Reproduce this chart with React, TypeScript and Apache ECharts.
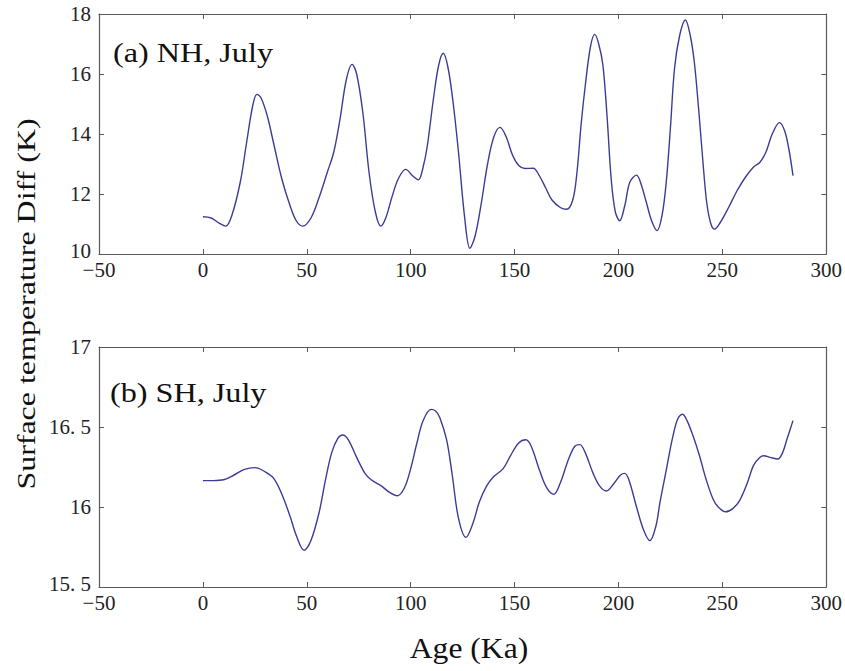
import React, { useEffect, useRef } from "react";
import * as echarts from "echarts";

const nhAge = [0, 4, 8, 11, 14, 18, 21, 24, 26, 28, 31, 34, 38, 42, 45, 48, 52, 56, 60, 63, 66, 69, 71.8, 74, 77, 80, 83, 85.6, 88, 91, 94, 97.6, 101, 103.7, 106, 108, 111, 113.5, 115.7, 118, 120.5, 123, 126, 128.5, 131, 134, 137, 140, 143, 146, 149, 152, 155, 159, 162, 165, 168, 172, 175, 178, 180, 182, 184, 186.5, 188.6, 190.5, 192.5, 194.5, 196.5, 198.5, 200.6, 203, 205.5, 208.7, 211, 213.5, 216, 218.6, 221, 223, 225, 227, 229.5, 232.2, 234.5, 236.5, 238.5, 240.5, 242.5, 244.5, 246.3, 249, 253, 257, 261, 265, 268, 271, 274, 277.5, 280, 282, 284];
const nhTemp = [11.24, 11.2, 11.02, 10.93, 11.3, 12.4, 13.7, 14.95, 15.32, 15.2, 14.6, 13.7, 12.5, 11.6, 11.1, 10.93, 11.2, 11.9, 12.75, 13.4, 14.5, 15.8, 16.32, 16.0, 14.7, 12.7, 11.4, 10.93, 11.2, 11.9, 12.5, 12.82, 12.6, 12.47, 12.9, 13.6, 15.2, 16.3, 16.69, 16.2, 15.0, 13.4, 11.2, 10.19, 10.6, 11.7, 13.0, 13.9, 14.22, 13.9, 13.3, 12.95, 12.85, 12.86, 12.6, 12.2, 11.8, 11.55, 11.49, 11.8, 12.7, 14.3, 15.6, 16.9, 17.32, 17.0, 16.3, 14.6, 12.5, 11.4, 11.11, 11.6, 12.4, 12.63, 12.3, 11.7, 11.1, 10.78, 11.3, 12.4, 14.2, 16.2, 17.3, 17.8, 17.3, 16.4, 14.9, 13.2, 11.7, 11.0, 10.83, 11.05, 11.55, 12.1, 12.55, 12.9, 13.05, 13.4, 14.0, 14.38, 14.1, 13.5, 12.61];

const shAge = [0, 5, 10, 15, 20, 25, 30, 34, 38, 42, 45, 48.7, 52, 56, 59, 62, 65, 67.3, 70, 74, 78, 81, 86, 90, 93.6, 97, 100, 103, 106, 109.8, 112, 114, 117.3, 120, 123, 126.6, 130, 133, 136.5, 140, 144.5, 148, 152, 155.4, 158, 162, 165.5, 168.9, 172, 176, 179, 181.4, 184, 187.8, 191, 194.2, 198, 201, 203, 205, 208.7, 212, 215.1, 218, 220, 223, 226, 228.5, 230.8, 233, 236, 239, 242, 245.5, 248, 251.6, 255, 258.3, 262, 265, 268, 270, 273, 276.7, 279, 281, 284];
const shTemp = [16.165, 16.165, 16.17, 16.2, 16.235, 16.246, 16.22, 16.18, 16.08, 15.94, 15.82, 15.73, 15.79, 15.97, 16.17, 16.34, 16.43, 16.45, 16.42, 16.31, 16.21, 16.17, 16.13, 16.09, 16.07, 16.12, 16.24, 16.4, 16.54, 16.61, 16.6, 16.56, 16.42, 16.2, 15.93, 15.81, 15.9, 16.03, 16.13, 16.19, 16.24, 16.32, 16.4, 16.42, 16.38, 16.23, 16.12, 16.08, 16.15, 16.3, 16.38, 16.39, 16.34, 16.21, 16.13, 16.1, 16.15, 16.2, 16.21, 16.17, 16.0, 15.86, 15.79, 15.88, 16.03, 16.23, 16.43, 16.55, 16.58, 16.54, 16.44, 16.32, 16.18, 16.05, 16.0, 15.97, 15.99, 16.04, 16.15, 16.26, 16.31, 16.32, 16.31, 16.3, 16.34, 16.42, 16.54];

const xTicks = { min: -50, max: 300, interval: 50 };
const nhTicks = { min: 10, max: 18, interval: 2 };
const shTicks = { min: 15.5, max: 17, interval: 0.5 };

const panelTitles = ["(a) NH, July", "(b) SH, July"];
const yName = "Surface temperature Diff (K)";
const xName = "Age (Ka)";

const AXIS_COLOR = "#5a5a5a";
const LINE_COLOR = "#3c3c96";
const SERIF = "Liberation Serif";

export default function App() {
  const ref = useRef<HTMLDivElement>(null);
  useEffect(() => {
    if (!ref.current) return;
    const chart = echarts.init(ref.current, null, { renderer: "svg" });
    const grids = [
      { left: 99, top: 14, width: 728, height: 240 },
      { left: 99, top: 347, width: 728, height: 240 },
    ];
    const baseAxisLine = { show: true, onZero: false, lineStyle: { color: AXIS_COLOR, width: 1.2 } };
    const tick = { show: true, inside: true, length: 5, lineStyle: { color: AXIS_COLOR } };
    const labelStyle = { color: "#222", fontFamily: SERIF, fontSize: 21, lineHeight: 14 };
    const fmtX = (v: number) => String(v).replace("-", "\u2212");
    const xAxes: any[] = [];
    const yAxes: any[] = [];
    [0, 1].forEach((g) => {
      xAxes.push({
        type: "value", gridIndex: g, position: "bottom", ...xTicks,
        axisLine: baseAxisLine, axisTick: tick, splitLine: { show: false },
        axisLabel: { ...labelStyle, margin: 9, formatter: fmtX },
      });
      xAxes.push({
        type: "value", gridIndex: g, position: "top", ...xTicks,
        axisLine: baseAxisLine, axisTick: tick, splitLine: { show: false },
        axisLabel: { show: false },
      });
      const yt = g === 0 ? nhTicks : shTicks;
      const fmtY = (v: number) => {
        const s = String(v).replace(".", ". ");
        return v === yt.min ? "{lo|" + s + "}" : s;
      };
      yAxes.push({
        type: "value", gridIndex: g, position: "left", ...yt,
        axisLine: baseAxisLine, axisTick: tick, splitLine: { show: false },
        axisLabel: {
          ...labelStyle, margin: 8, formatter: fmtY,
          rich: { lo: { fontFamily: SERIF, fontSize: 21, lineHeight: 14, color: "#222", padding: [0, 0, 6, 0] } },
        },
      });
      yAxes.push({
        type: "value", gridIndex: g, position: "right", ...yt,
        axisLine: baseAxisLine, axisTick: tick, splitLine: { show: false },
        axisLabel: { show: false },
      });
    });
    const nhData = nhAge.map((a, i) => [a, nhTemp[i]]);
    const shData = shAge.map((a, i) => [a, shTemp[i]]);
    chart.setOption({
      animation: false,
      backgroundColor: "#fff",
      grid: grids,
      xAxis: xAxes,
      yAxis: yAxes,
      series: [
        {
          type: "line", xAxisIndex: 0, yAxisIndex: 0, data: nhData, smooth: 0.35,
          showSymbol: false, lineStyle: { color: LINE_COLOR, width: 1.4 },
        },
        {
          type: "line", xAxisIndex: 2, yAxisIndex: 2, data: shData, smooth: 0.35,
          showSymbol: false, lineStyle: { color: LINE_COLOR, width: 1.4 },
        },
      ],
      graphic: [
        {
          type: "text", x: 113, y: 53, scaleX: 1.15,
          style: { text: panelTitles[0], fontFamily: SERIF, fontSize: 28, fill: "#111", verticalAlign: "middle" },
        },
        {
          type: "text", x: 110, y: 393, scaleX: 1.15,
          style: { text: panelTitles[1], fontFamily: SERIF, fontSize: 28, fill: "#111", verticalAlign: "middle" },
        },
        {
          type: "text", x: 26, y: 304, rotation: Math.PI / 2, scaleX: 1.23,
          style: {
            text: yName, fontFamily: SERIF, fontSize: 26, fill: "#111",
            align: "center", verticalAlign: "middle",
          },
        },
        {
          type: "text", x: 469, y: 648, scaleX: 1.09,
          style: {
            text: xName, fontFamily: SERIF, fontSize: 29, fill: "#111",
            align: "center", verticalAlign: "middle",
          },
        },
      ],
    });
    return () => chart.dispose();
  }, []);
  return (
    <div
      ref={ref}
      style={{ position: "fixed", left: 0, top: 0, width: 845, height: 671, background: "#fff" }}
    />
  );
}
